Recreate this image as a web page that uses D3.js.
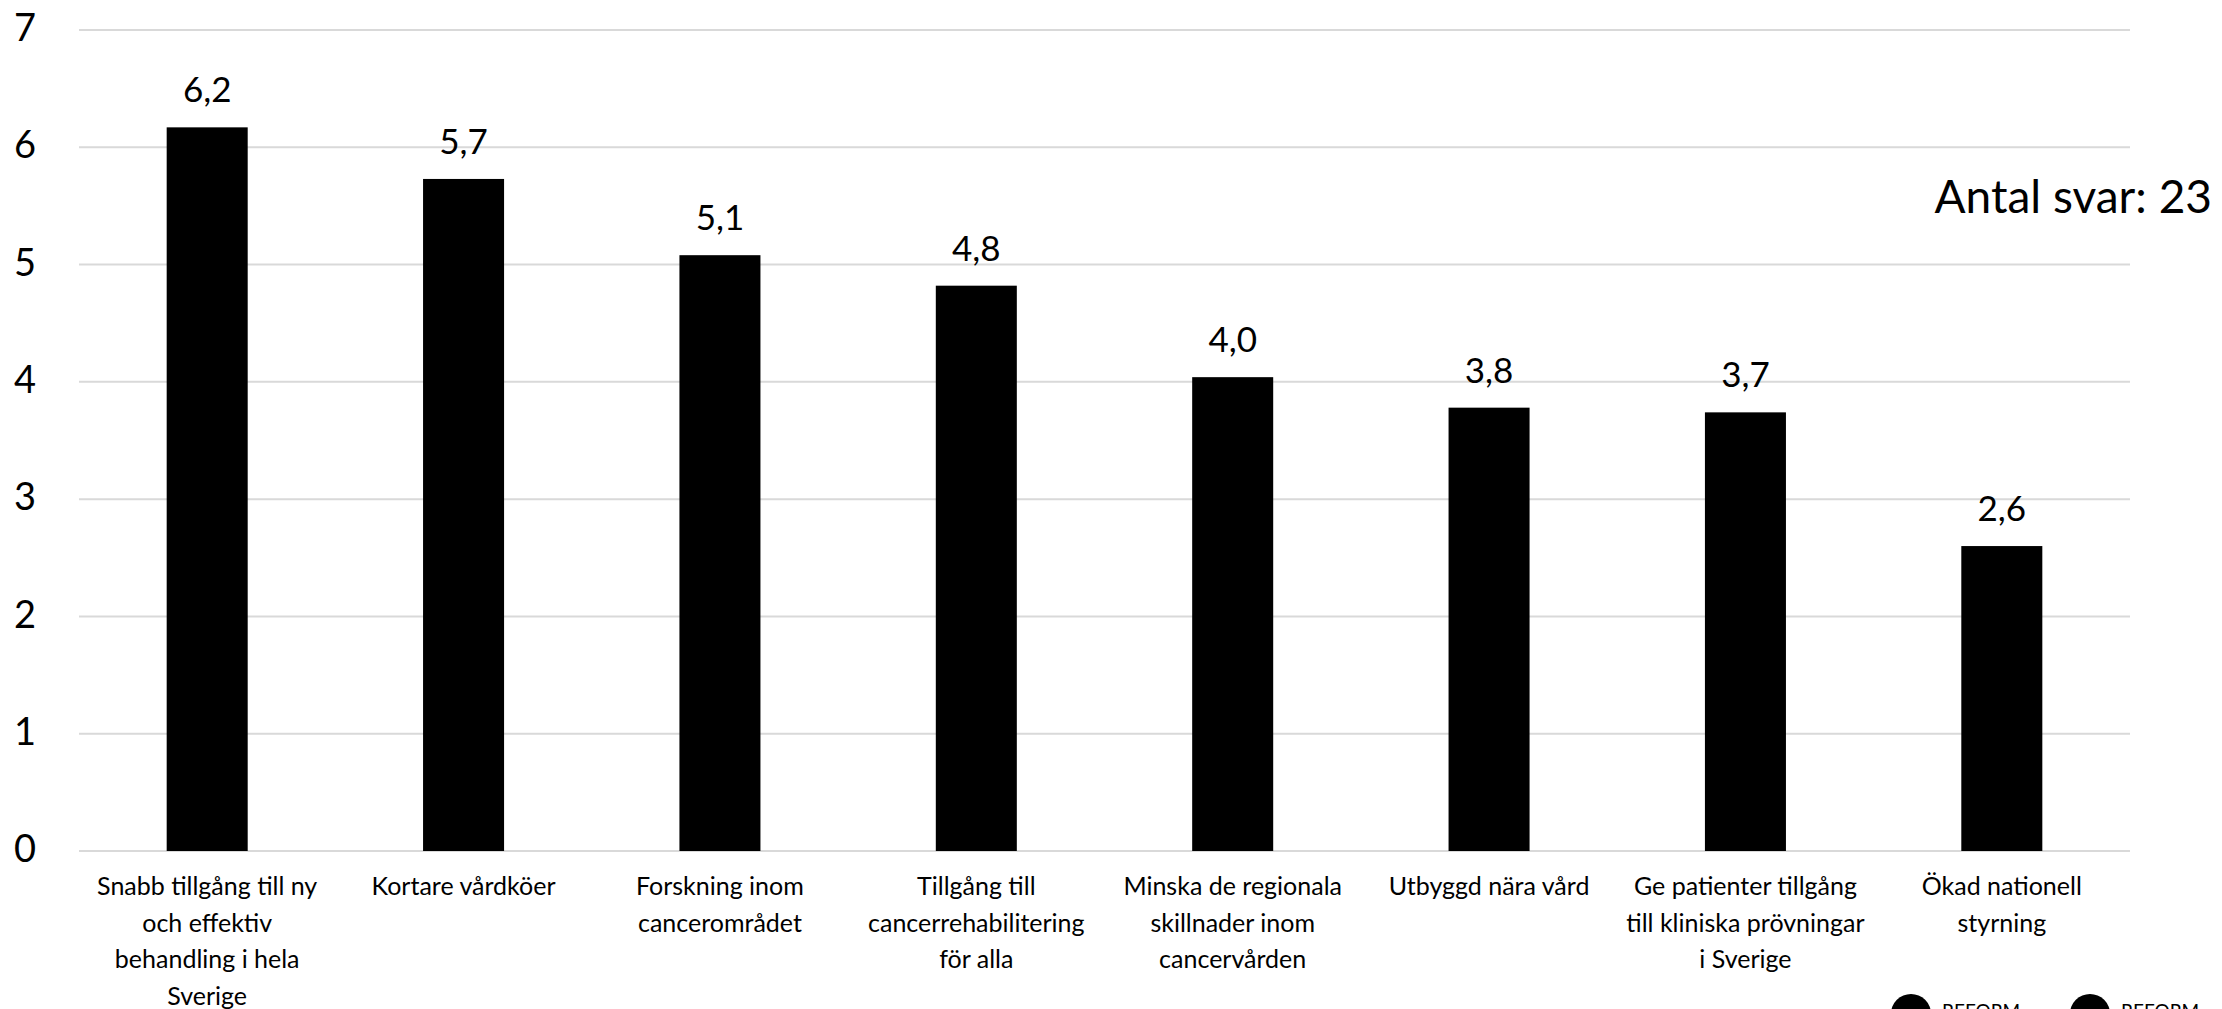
<!DOCTYPE html>
<html>
<head>
<meta charset="utf-8">
<script src="https://cdn.jsdelivr.net/npm/d3@7/dist/d3.min.js"></script>
<style>
  html, body { margin: 0; padding: 0; background: #ffffff; }
  svg { display: block; }
  text { font-family: Lato, "Noto Sans", sans-serif; fill: #000; }
</style>
</head>
<body>
<svg id="chart" width="2222" height="1009"></svg>
<script>
// ---- data ----
const categories = [
  ["Snabb tillgång till ny", "och effektiv", "behandling i hela", "Sverige"],
  ["Kortare vårdköer"],
  ["Forskning inom", "cancerområdet"],
  ["Tillgång till", "cancerrehabilitering", "för alla"],
  ["Minska de regionala", "skillnader inom", "cancervården"],
  ["Utbyggd nära vård"],
  ["Ge patienter tillgång", "till kliniska prövningar", "i Sverige"],
  ["Ökad nationell", "styrning"]
];
const values = [6.17, 5.73, 5.08, 4.82, 4.04, 3.78, 3.74, 2.60];
const yTicks = [0, 1, 2, 3, 4, 5, 6, 7];
const noteText = "Antal svar: 23";
const logoText = ["REFORM", "REFORM"];

// ---- layout ----
const svg = d3.select("#chart");
const mLeft = 79, mRight = 2130, mTop = 30, mBottom = 851;

const x = d3.scaleBand()
  .domain(d3.range(categories.length))
  .range([mLeft, mRight])
  .paddingInner(0.684)
  .paddingOuter(0.342);

const y = d3.scaleLinear().domain([0, 7]).range([mBottom, mTop]);

// gridlines
svg.append("g")
  .selectAll("line")
  .data(yTicks)
  .join("line")
  .attr("x1", mLeft).attr("x2", mRight)
  .attr("y1", d => y(d)).attr("y2", d => y(d))
  .attr("stroke", "#d9d9d9")
  .attr("stroke-width", 2);

// y axis labels
const yAxis = d3.axisLeft(y).tickValues(yTicks).tickFormat(d3.format("d")).tickSize(0).tickPadding(0);
const gy = svg.append("g").attr("transform", "translate(36,0)").call(yAxis);
gy.select(".domain").remove();
gy.selectAll("text")
  .attr("font-family", "Lato, 'Noto Sans', sans-serif")
  .attr("font-size", 38)
  .attr("fill", "#000")
  .attr("dy", "0.28em");

// bars
svg.append("g")
  .selectAll("rect")
  .data(values)
  .join("rect")
  .attr("x", (d, i) => x(i))
  .attr("width", x.bandwidth())
  .attr("y", d => y(d))
  .attr("height", d => y(0) - y(d))
  .attr("fill", "#000");

// value labels
const fmt = v => d3.format(".1f")(v).replace(".", ",");
svg.append("g")
  .selectAll("text")
  .data(values)
  .join("text")
  .attr("x", (d, i) => x(i) + x.bandwidth() / 2)
  .attr("y", d => y(d) - 25)
  .attr("text-anchor", "middle")
  .attr("font-size", 35)
  .text(d => fmt(d));

// category labels
const cat = svg.append("g")
  .selectAll("text")
  .data(categories)
  .join("text")
  .attr("x", (d, i) => x(i) + x.bandwidth() / 2)
  .attr("y", 895)
  .attr("text-anchor", "middle")
  .attr("font-size", 25);
cat.selectAll("tspan")
  .data(d => d)
  .join("tspan")
  .attr("x", function() { return this.parentNode.getAttribute("x"); })
  .attr("dy", (d, i) => i === 0 ? 0 : 36.7)
  .text(d => d);

// note
svg.append("text")
  .attr("x", 2212)
  .attr("y", 213)
  .attr("text-anchor", "end")
  .attr("font-size", 46)
  .text(noteText);

// logos (cut off at bottom edge, as in the reference)
const logoX = [1911, 2090];
const logos = svg.append("g").selectAll("g").data(logoText).join("g")
  .attr("transform", (d, i) => `translate(${logoX[i]},1014)`);
logos.append("circle").attr("r", 20).attr("fill", "#000");
logos.append("text")
  .attr("x", 31).attr("y", 4)
  .attr("font-size", 19)
  .text(d => d);
</script>
</body>
</html>
